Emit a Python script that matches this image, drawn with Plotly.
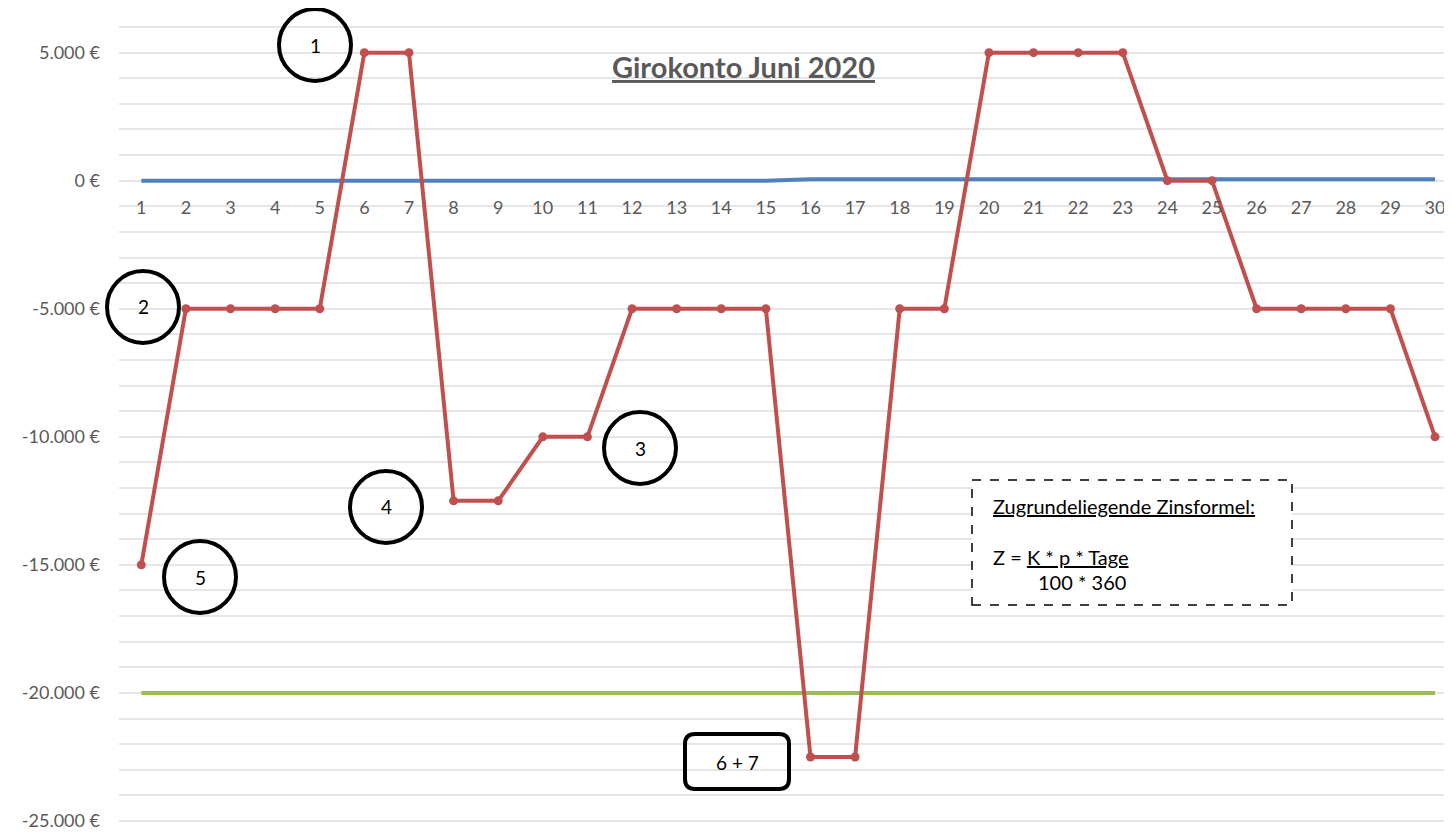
import plotly.graph_objects as go

days = list(range(1, 31))
saldo = [-15000, -5000, -5000, -5000, -5000, 5000, 5000, -12500, -12500, -10000,
         -10000, -5000, -5000, -5000, -5000, -22500, -22500, -5000, -5000, 5000,
         5000, 5000, 5000, 0, 0, -5000, -5000, -5000, -5000, -10000]
zinsen = [0]*15 + [60]*15
kreditlinie = [-20000]*30
ytick_vals = [5000, 0, -5000, -10000, -15000, -20000, -25000]
ytick_text = ["5.000 €", "0 €", "-5.000 €", "-10.000 €", "-15.000 €", "-20.000 €", "-25.000 €"]

OFF = 8  # page body margin
W, H = 1452 - OFF, 832 - OFF
# plot area in page pixels
L, R, T, B = 119, 1452, 26, 822
YMIN, YMAX = -25040, 6040

def px(x):
    return (x - L) / (R - L)

def py(y):
    return (B - y) / (B - T)

FONT = "Lato"
GRAY = "#595959"

fig = go.Figure()
fig.add_trace(go.Scatter(x=days, y=kreditlinie, mode="lines",
                         line=dict(color="#9BBB59", width=4), hoverinfo="skip"))
fig.add_trace(go.Scatter(x=days, y=zinsen, mode="lines",
                         line=dict(color="#4F81BD", width=4), hoverinfo="skip"))
fig.add_trace(go.Scatter(x=days, y=saldo, mode="lines+markers",
                         line=dict(color="#C0504D", width=4),
                         marker=dict(color="#C0504D", size=9), hoverinfo="skip"))

fig.update_layout(
    width=W, height=H,
    margin=dict(l=L - OFF, r=1452 - R, t=T - OFF, b=832 - B),
    paper_bgcolor="white", plot_bgcolor="white",
    showlegend=False,
    font=dict(family=FONT, color=GRAY, size=14),
)
fig.update_xaxes(
    range=[0.5, 30.38], tickmode="array", tickvals=days,
    ticktext=[str(d) for d in days],
    showgrid=False, zeroline=False, showline=False,
    anchor="free", position=py(181), ticks="", ticklen=0,
    ticklabelstandoff=14,
    tickfont=dict(family=FONT, size=18, color=GRAY),
)
fig.update_yaxes(
    range=[YMIN, YMAX], tickmode="array", tickvals=ytick_vals, ticktext=ytick_text,
    showgrid=True, gridcolor="#e6e6e6", gridwidth=1.5, zeroline=False,
    minor=dict(tick0=0, dtick=1000, showgrid=True, gridcolor="#e6e6e6", gridwidth=1.5),
    tickfont=dict(family=FONT, size=18, color=GRAY), ticklabelstandoff=18,
)

shapes = []
annots = []
circles = [((315, 45), "1"), ((143, 307), "2"), ((640, 448), "3"),
           ((386, 507), "4"), ((200, 577), "5")]
for (cx, cy), t in circles:
    r = 36
    shapes.append(dict(type="circle", xref="paper", yref="paper",
                       x0=px(cx - r), x1=px(cx + r), y0=py(cy + r), y1=py(cy - r),
                       line=dict(color="black", width=4)))
    annots.append(dict(x=px(cx), y=py(cy), xref="paper", yref="paper", text=t,
                       xanchor="center", yanchor="middle",
                       showarrow=False, font=dict(family=FONT, size=19, color="black")))

# rounded rectangle 6 + 7
x0, x1, y0, y1, rr = 685, 789, 734, 789, 10
path = (f"M {px(x0+rr)},{py(y0)} L {px(x1-rr)},{py(y0)} Q {px(x1)},{py(y0)} {px(x1)},{py(y0+rr)} "
        f"L {px(x1)},{py(y1-rr)} Q {px(x1)},{py(y1)} {px(x1-rr)},{py(y1)} "
        f"L {px(x0+rr)},{py(y1)} Q {px(x0)},{py(y1)} {px(x0)},{py(y1-rr)} "
        f"L {px(x0)},{py(y0+rr)} Q {px(x0)},{py(y0)} {px(x0+rr)},{py(y0)} Z")
shapes.append(dict(type="path", xref="paper", yref="paper", path=path,
                   line=dict(color="black", width=4)))
annots.append(dict(x=px(737), y=py(762), xref="paper", yref="paper", text="6 + 7",
                   xanchor="center", yanchor="middle",
                   showarrow=False, font=dict(family=FONT, size=19, color="black")))

# dashed formula box
shapes.append(dict(type="rect", xref="paper", yref="paper",
                   x0=px(972), x1=px(1292), y0=py(605), y1=py(480),
                   line=dict(color="black", width=1.5, dash="dash"),
                   fillcolor="white", layer="above"))
annots.append(dict(x=px(991), y=py(506), xref="paper", yref="paper",
                   text="<u>Zugrundeliegende Zinsformel:</u>", xanchor="left", yanchor="middle",
                   showarrow=False, font=dict(family=FONT, size=20, color="black")))
annots.append(dict(x=px(991), y=py(557), xref="paper", yref="paper",
                   text="Z = <u>K * p * Tage</u>", xanchor="left", yanchor="middle",
                   showarrow=False, font=dict(family=FONT, size=20, color="black")))
annots.append(dict(x=px(1036), y=py(582), xref="paper", yref="paper",
                   text="100 * 360", xanchor="left", yanchor="middle",
                   showarrow=False, font=dict(family=FONT, size=20, color="black")))

# title
annots.append(dict(x=px(743), y=py(67), xref="paper", yref="paper",
                   text="<b><u>Girokonto Juni 2020</u></b>", yanchor="middle",
                   showarrow=False, font=dict(family=FONT, size=29, color=GRAY)))

fig.update_layout(shapes=shapes, annotations=annots)
fig.write_html("out.html")
